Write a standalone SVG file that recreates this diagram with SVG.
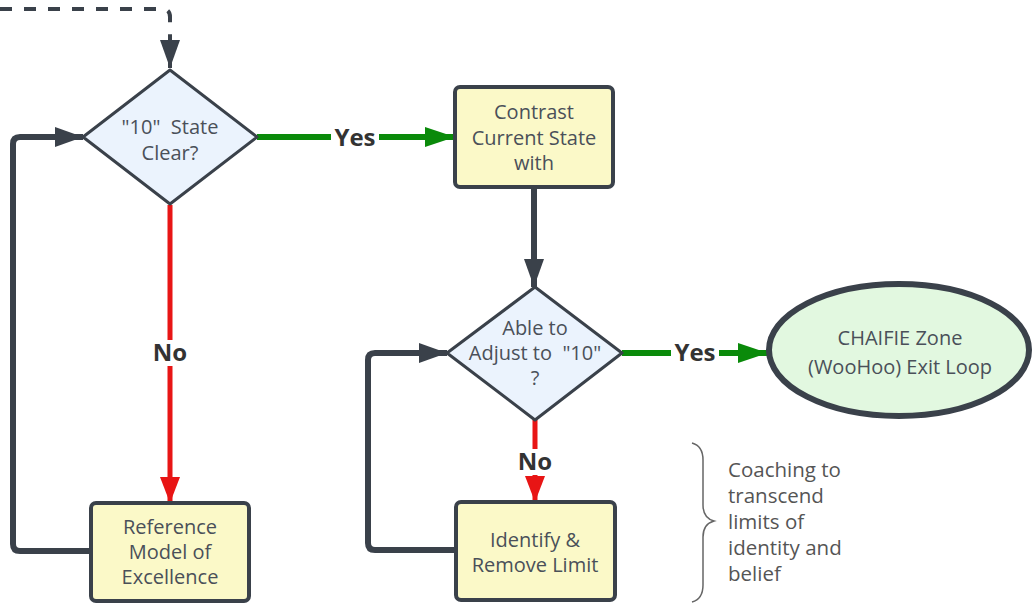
<svg xmlns="http://www.w3.org/2000/svg" width="1034" height="604" viewBox="0 0 1034 604">
<style>
.node text{font-family:"Open Sans","Liberation Sans",sans-serif;font-size:20px;fill:#4a5059;text-anchor:middle}
.rect{fill:#fbf9c8;stroke:#3a414a;stroke-width:4}
.dia{fill:#ebf3fd;stroke:#3a414a;stroke-width:3;stroke-linejoin:round}
.dark{fill:none;stroke:#3a414a;stroke-width:6;stroke-linejoin:round}
.green{fill:none;stroke:#0a8a0a;stroke-width:6}
.red{fill:none;stroke:#e81515;stroke-width:5}
.lbl{font-family:"Open Sans","Liberation Sans",sans-serif;font-size:24px;font-weight:bold;fill:#333;text-anchor:middle}
.note{font-family:"Open Sans","Liberation Sans",sans-serif;font-size:20.5px;fill:#555}
</style>
<defs>
<marker id="ad" markerUnits="userSpaceOnUse" markerWidth="30" markerHeight="24" refX="28" refY="12" orient="auto"><path d="M0,2 L28,12 L0,22 Z" fill="#3a414a"/></marker>
<marker id="ag" markerUnits="userSpaceOnUse" markerWidth="32" markerHeight="24" refX="30" refY="12" orient="auto"><path d="M0,2 L30,12 L0,22 Z" fill="#0a8a0a"/></marker>
<marker id="ar" markerUnits="userSpaceOnUse" markerWidth="30" markerHeight="24" refX="26" refY="12" orient="auto"><path d="M0,2 L26,12 L0,22 Z" fill="#e81515"/></marker>
</defs>
<rect width="1034" height="604" fill="#fff"/>
<g id="connectors">
<path d="M0,9 H162 Q170,9 170,17 V68" fill="none" stroke="#3a414a" stroke-width="4" stroke-dasharray="12 12" marker-end="url(#ad)"/>
<path class="green" d="M257,137 H455" marker-end="url(#ag)"/>
<path class="dark" d="M534,187 V287" marker-end="url(#ad)"/>
<path class="green" d="M622,353 H768" marker-end="url(#ag)"/>
<path class="red" d="M170,205 V503" marker-end="url(#ar)"/>
<path class="red" d="M535,420 V502" marker-end="url(#ar)"/>
<path class="dark" d="M91,551 H20 Q13,551 13,544 V144 Q13,137 20,137 H83" marker-end="url(#ad)"/>
<path class="dark" d="M456,550 H375 Q368,550 368,543 V360 Q368,353 375,353 H447" marker-end="url(#ad)"/>
<rect x="331" y="124" width="48" height="26" fill="#fff"/>
<text class="lbl" x="355" y="146">Yes</text>
<rect x="671" y="340" width="48" height="26" fill="#fff"/>
<text class="lbl" x="695" y="361">Yes</text>
<rect x="150" y="340" width="40" height="26" fill="#fff"/>
<text class="lbl" x="170" y="361">No</text>
<rect x="515" y="449" width="40" height="26" fill="#fff"/>
<text class="lbl" x="535" y="470">No</text>
</g>
<g id="n-state-clear" class="node">
<path class="dia" d="M170,70 L257,137 L170,204 L83,137 Z"/>
<text x="170" y="134" xml:space="preserve">"10"  State</text>
<text x="170" y="160">Clear?</text>
</g>
<g id="n-contrast" class="node">
<rect class="rect" x="455" y="87" width="158" height="100" rx="5"/>
<text x="534" y="119">Contrast</text>
<text x="534" y="145">Current State</text>
<text x="534" y="170">with</text>
</g>
<g id="n-adjust" class="node">
<path class="dia" d="M535,287 L622,353 L535,420 L447,353 Z"/>
<text x="535" y="335">Able to</text>
<text x="535" y="360" xml:space="preserve">Adjust to  "10"</text>
<text x="535" y="385">?</text>
</g>
<g id="n-chaifie" class="node">
<ellipse cx="899" cy="350" rx="130" ry="66" fill="#e2f8e0" stroke="#3a414a" stroke-width="6"/>
<text x="900" y="345">CHAIFIE Zone</text>
<text x="900" y="374">(WooHoo) Exit Loop</text>
</g>
<g id="n-reference" class="node">
<rect class="rect" x="91" y="503" width="158" height="98" rx="5"/>
<text x="170" y="534">Reference</text>
<text x="170" y="559">Model of</text>
<text x="170" y="584">Excellence</text>
</g>
<g id="n-identify" class="node">
<rect class="rect" x="456" y="502" width="159" height="98" rx="5"/>
<text x="535" y="547">Identify &amp;</text>
<text x="535" y="572">Remove Limit</text>
</g>
<g id="n-note">
<path d="M692,443 Q703,446 703,460 V505 Q703,518 714,521 Q703,524 703,537 V585 Q703,599 692,602" fill="none" stroke="#666" stroke-width="1.5"/>
<text class="note" x="728" y="477">Coaching to</text>
<text class="note" x="728" y="503">transcend</text>
<text class="note" x="728" y="529">limits of</text>
<text class="note" x="728" y="555">identity and</text>
<text class="note" x="728" y="581">belief</text>
</g>
</svg>
